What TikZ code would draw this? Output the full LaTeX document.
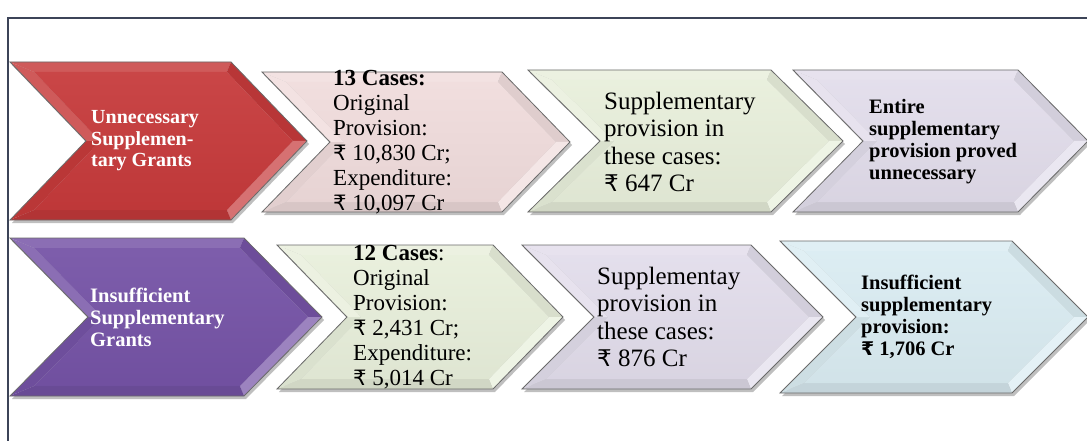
\documentclass[tikz,border=0pt]{standalone}
\usepackage{fontspec}
\setmainfont{Liberation Serif}
\newfontfamily\rsfont[Scale=0.92]{DejaVu Sans}
\newcommand{\rs}{{\rsfont ₹}}
\definecolor{framecol}{HTML}{3C4458}
\definecolor{redc}{HTML}{C63A3B}
\definecolor{pinkc}{HTML}{F0DCDC}
\definecolor{greenc}{HTML}{E8EFDB}
\definecolor{lavc}{HTML}{E2DDEB}
\definecolor{purc}{HTML}{7553A6}
\definecolor{bluec}{HTML}{DAECF2}
\definecolor{edgec}{HTML}{6A6A6A}
\def\bev{10}
\newcommand{\chev}[7]{%
 \pgfmathsetmacro\cvA{#2}\pgfmathsetmacro\cvB{#3-#6}\pgfmathsetmacro\cvC{#3}\pgfmathsetmacro\cvF{#2+#6}%
 \pgfmathsetmacro\cvT{#4-#5}\pgfmathsetmacro\cvD{#4+#5}\pgfmathsetmacro\cvM{#4}%
 \pgfmathsetmacro\cvIA{#2+\bev*2.414}\pgfmathsetmacro\cvIB{#3-#6-\bev*0.414}%
 \pgfmathsetmacro\cvIC{#3-\bev*1.414}\pgfmathsetmacro\cvIF{#2+#6+\bev*1.414}%
 \pgfmathsetmacro\cvIT{#4-#5+\bev}\pgfmathsetmacro\cvID{#4+#5-\bev}%
 \fill[black,opacity=.25] (\cvA+2,\cvT+3) -- (\cvB+2,\cvT+3) -- (\cvC+2,\cvM+3) -- (\cvB+2,\cvD+3) -- (\cvA+2,\cvD+3) -- (\cvF+2,\cvM+3) -- cycle;
 \fill[#7!84!white] (\cvA,\cvT) -- (\cvB,\cvT) -- (\cvIB,\cvIT) -- (\cvIA,\cvIT) -- cycle;
 \fill[#7!93!black] (\cvB,\cvT) -- (\cvC,\cvM) -- (\cvIC,\cvM) -- (\cvIB,\cvIT) -- cycle;
 \fill[#7!72!white] (\cvC,\cvM) -- (\cvB,\cvD) -- (\cvIB,\cvID) -- (\cvIC,\cvM) -- cycle;
 \fill[#7!90!black] (\cvB,\cvD) -- (\cvA,\cvD) -- (\cvIA,\cvID) -- (\cvIB,\cvID) -- cycle;
 \fill[#7!94!black] (\cvA,\cvD) -- (\cvF,\cvM) -- (\cvIF,\cvM) -- (\cvIA,\cvID) -- cycle;
 \fill[#7!84!white] (\cvF,\cvM) -- (\cvA,\cvT) -- (\cvIA,\cvIT) -- (\cvIF,\cvM) -- cycle;
 \shade[top color=#7!94!white, bottom color=#7!96!black] (\cvIA,\cvIT) -- (\cvIB,\cvIT) -- (\cvIC,\cvM) -- (\cvIB,\cvID) -- (\cvIA,\cvID) -- (\cvIF,\cvM) -- cycle;
 \draw[edgec, line width=0.8pt, line join=miter] (\cvA,\cvT) -- (\cvB,\cvT) -- (\cvC,\cvM) -- (\cvB,\cvD) -- (\cvA,\cvD) -- (\cvF,\cvM) -- cycle;
 \coordinate (#1) at (\cvA,\cvM);
}
\tikzset{
 txt/.style={anchor=west, align=left, inner sep=0pt, text=black},
 smallbold/.style={font=\fontsize{20.5}{22}\selectfont\bfseries},
 midreg/.style={font=\fontsize{23}{25}\selectfont},
 bigreg/.style={font=\fontsize{25}{27.5}\selectfont},
}
\begin{document}
\begin{tikzpicture}[x=1pt,y=-1pt]
\useasboundingbox (0,0) rectangle (1087,441);
\fill[white] (0,0) rectangle (1087,441);
\draw[framecol, line width=2pt] (8,441) -- (8,18) -- (1090,18);
% row 1
\chev{c1}{10}{307}{141}{79}{76}{redc}
\chev{c2}{262}{570}{142}{70}{68}{pinkc}
\chev{c3}{528}{843}{141}{71}{72}{greenc}
\chev{c4}{793}{1088}{141}{71}{70}{lavc}
% row 2
\chev{c5}{10}{322}{317}{79}{78}{purc}
\chev{c6}{277}{563}{317}{72}{70}{greenc}
\chev{c7}{522}{823}{317}{72}{72}{lavc}
\chev{c8}{780}{1088}{317}{76}{76}{bluec}
% texts
\node[txt, font=\fontsize{20}{21.5}\selectfont\bfseries, text=white] (t1) at (91,141) {Unnecessary\\Supplemen-\\tary Grants};
\node[txt, midreg] (t2) at (333,142) {\textbf{13 Cases:}\\Original\\Provision:\\\rs\ 10,830 Cr;\\Expenditure:\\\rs\ 10,097 Cr};
\node[txt, bigreg] (t3) at (604,142) {Supplementary\\provision in\\these cases:\\\rs\ 647 Cr};
\node[txt, smallbold] (t4) at (869,142) {Entire\\supplementary\\provision proved\\unnecessary};
\node[txt, smallbold, text=white] (t5) at (90,317) {Insufficient\\Supplementary\\Grants};
\node[txt, midreg] (t6) at (353,317) {\textbf{12 Cases}:\\Original\\Provision:\\\rs\ 2,431 Cr;\\Expenditure:\\\rs\ 5,014 Cr};
\node[txt, bigreg] (t7) at (597,317) {Supplementay\\provision in\\these cases:\\\rs\ 876 Cr};
\node[txt, smallbold] (t8) at (861,317) {Insufficient\\supplementary\\provision:\\\rs\ 1,706 Cr};
\end{tikzpicture}
\end{document}
